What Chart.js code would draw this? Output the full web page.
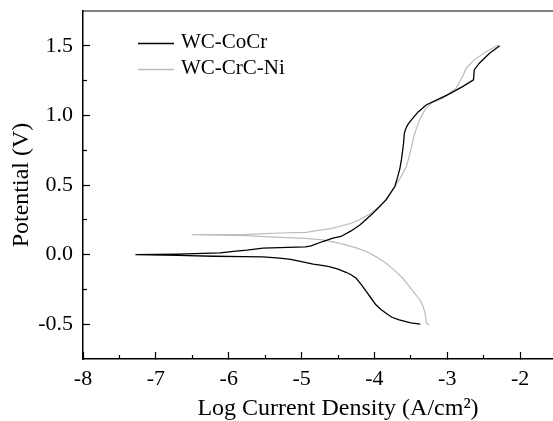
<!DOCTYPE html>
<html>
<head>
<meta charset="utf-8">
<script src="https://cdn.jsdelivr.net/npm/chart.js@4.4.0/dist/chart.umd.min.js"></script>
<style>
  html, body { margin: 0; padding: 0; overflow: hidden; background: #fff; }
  canvas { display: block; }
</style>
</head>
<body>
<canvas id="polChart" width="600" height="421"></canvas>
<script>
const seriesNames = ["WC-CoCr", "WC-CrC-Ni"];
const seriesColors = ["#000000", "#bcbcbc"];

// WC-CoCr: cathodic branch from -0.5 V back to Ecorr, then anodic branch up
const cocrLogI = [-3.37, -3.50, -3.66, -3.76, -3.84, -3.91, -3.98, -4.05, -4.11, -4.18,
  -4.25, -4.32, -4.39, -4.50, -4.62, -4.72, -4.84, -5.00, -5.15, -5.30,
  -5.53, -5.80, -6.20, -6.70, -7.28,
  -6.70, -6.12, -5.90, -5.75, -5.53, -5.30, -4.95, -4.87, -4.71, -4.57,
  -4.46, -4.32, -4.20, -4.02, -3.84, -3.72, -3.68, -3.65, -3.63, -3.60,
  -3.59, -3.57, -3.54, -3.50, -3.45, -3.40, -3.34, -3.29, -3.15, -2.97,
  -2.79, -2.64, -2.63, -2.56, -2.42, -2.28];
const cocrE = [-0.500, -0.490, -0.469, -0.450, -0.421, -0.395, -0.361, -0.310, -0.266, -0.215,
  -0.170, -0.145, -0.127, -0.105, -0.086, -0.078, -0.069, -0.050, -0.035, -0.026,
  -0.017, -0.014, -0.012, -0.006, 0.000,
  0.003, 0.012, 0.025, 0.032, 0.046, 0.050, 0.055, 0.062, 0.094, 0.118,
  0.130, 0.170, 0.213, 0.297, 0.393, 0.489, 0.560, 0.620, 0.680, 0.800,
  0.870, 0.905, 0.935, 0.962, 0.995, 1.025, 1.052, 1.075, 1.110, 1.155,
  1.207, 1.255, 1.327, 1.375, 1.447, 1.500];

// WC-CrC-Ni
const crcniLogI = [-3.25, -3.29, -3.30, -3.33, -3.37, -3.43, -3.52, -3.61, -3.72, -3.84,
  -3.97, -4.11, -4.25, -4.39, -4.55, -4.71, -4.95, -5.30, -5.76, -6.51,
  -5.76, -5.30, -4.94, -4.79, -4.60, -4.48, -4.34, -4.21, -4.07, -3.93,
  -3.84, -3.75, -3.66, -3.56, -3.50, -3.46, -3.43, -3.38, -3.30, -3.20,
  -3.06, -2.88, -2.79, -2.74, -2.63, -2.47, -2.30];
const crcniE = [-0.505, -0.490, -0.433, -0.374, -0.330, -0.290, -0.230, -0.170, -0.115, -0.062,
  -0.018, 0.022, 0.048, 0.070, 0.090, 0.106, 0.117, 0.124, 0.136, 0.143,
  0.146, 0.155, 0.160, 0.172, 0.187, 0.202, 0.222, 0.249, 0.290, 0.345,
  0.400, 0.465, 0.537, 0.632, 0.752, 0.848, 0.896, 0.968, 1.045, 1.095,
  1.124, 1.195, 1.279, 1.339, 1.399, 1.458, 1.506];

const xTicks = [-8, -7, -6, -5, -4, -3, -2];
const xMinorTicks = [-7.5, -6.5, -5.5, -4.5, -3.5, -2.5, -1.5];
const yTicks = [-0.5, 0.0, 0.5, 1.0, 1.5];
const yMinorTicks = [-0.25, 0.25, 0.75, 1.25];

const toPoints = (xs, ys) => xs.map((x, i) => ({ x: x, y: ys[i] }));
const setTicks = list => scale => { scale.ticks = list.map(v => ({ value: v })); };

const serif = "'Liberation Serif', 'Times New Roman', serif";

// legend drawn inside the plot, top-left
const insideLegend = {
  id: "insideLegend",
  afterDatasetsDraw(chart) {
    const { ctx, chartArea } = chart;
    ctx.save();
    ctx.font = "21px " + serif;
    ctx.fillStyle = "#000";
    ctx.textBaseline = "alphabetic";
    chart.data.datasets.forEach((ds, i) => {
      const y = chartArea.top + 32.5 + i * 26;
      ctx.strokeStyle = ds.borderColor;
      ctx.lineWidth = 1.4;
      ctx.beginPath();
      ctx.moveTo(chartArea.left + 55, y);
      ctx.lineTo(chartArea.left + 91, y);
      ctx.stroke();
      ctx.fillText(ds.label, chartArea.left + 98, y + 4);
    });
    ctx.restore();
  }
};

new Chart(document.getElementById("polChart"), {
  type: "scatter",
  data: {
    datasets: [
      {
        label: seriesNames[0],
        data: toPoints(cocrLogI, cocrE),
        showLine: true,
        borderColor: seriesColors[0],
        borderWidth: 1.3,
        pointRadius: 0,
        tension: 0
      },
      {
        label: seriesNames[1],
        data: toPoints(crcniLogI, crcniE),
        showLine: true,
        borderColor: seriesColors[1],
        borderWidth: 1.2,
        pointRadius: 0,
        tension: 0
      }
    ]
  },
  options: {
    responsive: false,
    animation: false,
    devicePixelRatio: 1,
    layout: { padding: { top: 11, right: 7, left: 0, bottom: 0 } },
    plugins: { legend: { display: false }, tooltip: { enabled: false } },
    scales: {
      x: {
        type: "linear", position: "bottom", weight: 1,
        min: -8, max: -1,
        afterBuildTicks: setTicks(xTicks),
        afterFit: s => { s.height = 62; },
        ticks: { font: { family: serif, size: 22 }, color: "#000", padding: 14 },
        grid: { display: true, drawOnChartArea: false, tickLength: -7, tickColor: "#000", tickWidth: 1.2 },
        border: { color: "#000", width: 1.5 },
        title: {
          display: true, text: "Log Current Density (A/cm²)", color: "#000",
          font: { family: serif, size: 24, lineHeight: 1 }, padding: 0
        }
      },
      xMinor: {
        type: "linear", position: "bottom", weight: 0,
        min: -8, max: -1,
        afterBuildTicks: setTicks(xMinorTicks),
        afterFit: s => { s.height = 0; },
        ticks: { display: false },
        grid: { display: true, drawOnChartArea: false, tickLength: -4, tickColor: "#000", tickWidth: 1.2 },
        border: { display: false }
      },
      xTop: {
        type: "linear", position: "top",
        min: -8, max: -1,
        afterFit: s => { s.height = 0; },
        ticks: { display: false },
        grid: { display: false },
        border: { color: "#808080", width: 2 }
      },
      y: {
        type: "linear", position: "left", weight: 1,
        min: -0.75, max: 1.75,
        afterBuildTicks: setTicks(yTicks),
        afterFit: s => { s.width = 83; s.paddingTop = 0; s.paddingBottom = 0; },
        ticks: {
          font: { family: serif, size: 22 }, color: "#000", padding: 17,
          callback: v => v.toFixed(1)
        },
        grid: { display: true, drawOnChartArea: false, tickLength: -7, tickColor: "#000", tickWidth: 1.2 },
        border: { color: "#000", width: 1.5 },
        title: {
          display: true, text: "Potential (V)", color: "#000",
          font: { family: serif, size: 24, lineHeight: 1 }, padding: { top: 10, bottom: 0 }
        }
      },
      yMinor: {
        type: "linear", position: "left", weight: 0,
        min: -0.75, max: 1.75,
        afterBuildTicks: setTicks(yMinorTicks),
        afterFit: s => { s.width = 0; s.paddingTop = 0; s.paddingBottom = 0; },
        ticks: { display: false },
        grid: { display: true, drawOnChartArea: false, tickLength: -4, tickColor: "#000", tickWidth: 1.2 },
        border: { display: false }
      }
    }
  },
  plugins: [insideLegend]
});
</script>
</body>
</html>
